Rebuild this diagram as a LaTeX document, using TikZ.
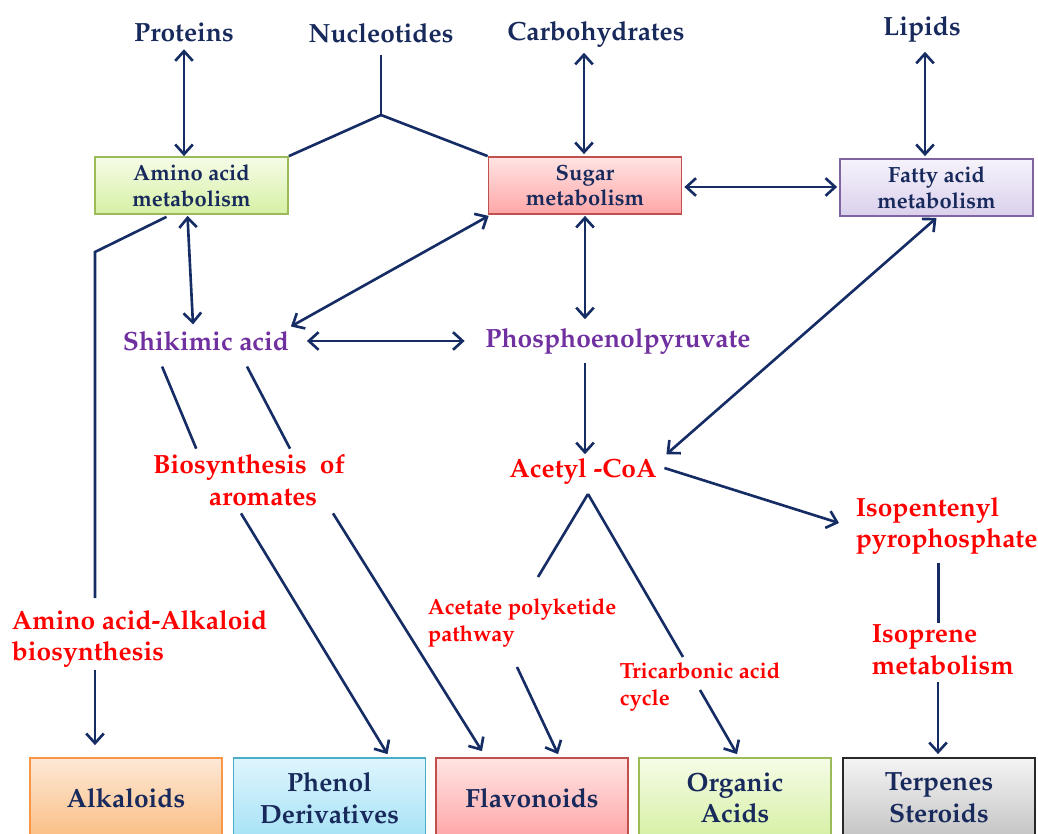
\documentclass[tikz,border=0pt]{standalone}
\usepackage[T1]{fontenc}
\usepackage{mathpazo}
\usepackage{tikz}
\usetikzlibrary{shapes,arrows,arrows.meta}
\usetikzlibrary{calc}

\definecolor{navytext}{RGB}{24,42,92}
\definecolor{navyline}{RGB}{22,44,100}
\definecolor{purplab}{RGB}{112,48,160}
\definecolor{greenT}{RGB}{246,252,232}
\definecolor{greenB}{RGB}{214,240,164}
\definecolor{greenD}{RGB}{155,187,89}
\definecolor{pinkT}{RGB}{255,228,228}
\definecolor{pinkB}{RGB}{255,166,166}
\definecolor{pinkD}{RGB}{192,80,77}
\definecolor{lilacT}{RGB}{246,243,251}
\definecolor{lilacB}{RGB}{218,208,236}
\definecolor{lilacD}{RGB}{128,100,162}
\definecolor{orangeT}{RGB}{253,232,214}
\definecolor{orangeB}{RGB}{251,190,132}
\definecolor{orangeD}{RGB}{247,150,70}
\definecolor{cyanT}{RGB}{222,245,253}
\definecolor{cyanB}{RGB}{166,226,246}
\definecolor{cyanD}{RGB}{75,172,198}
\definecolor{grayT}{RGB}{244,244,244}
\definecolor{grayB}{RGB}{196,196,196}
\definecolor{grayD}{RGB}{40,40,40}

\tikzset{
	link/.style={draw=navyline, line width=1.5pt},
	box/.style={draw, line width=1pt, align=center, text=navytext, inner sep=0pt,
		font=\fontsize{12.5}{14.7}\selectfont\bfseries, minimum width=3.86cm, minimum height=1.14cm},
	endbox/.style={draw, line width=1pt, align=center, text=navytext, inner sep=0pt,
		font=\fontsize{15}{18}\selectfont\bfseries, minimum width=3.84cm, minimum height=1.6cm},
	toplab/.style={text=navytext, inner sep=2pt, font=\fontsize{15}{17.5}\selectfont\bfseries},
	purlab/.style={text=purplab, inner sep=2pt, font=\fontsize{15}{18}\selectfont\bfseries},
	redlab/.style={text=red, inner sep=2pt, font=\fontsize{15}{18}\selectfont\bfseries},
	smalllab/.style={text=red, inner sep=2pt, align=left, font=\fontsize{12.5}{15.3}\selectfont\bfseries}
}

\begin{document}
\begin{tikzpicture}[x=0.02cm, y=-0.02cm, >={Straight Barb[length=5.5pt,width=10pt]}]
	\clip (0,0) rectangle (1038,834);

	\node[toplab] (prot) at (184,32) {Proteins};
	\node[toplab] (nucl) at (381,33) {Nucleotides};
	\node[toplab] (carb) at (596,34) {Carbohydrates};
	\node[toplab] (lip) at (922,29) {Lipids};

	\node[box, top color=greenT, bottom color=greenB, draw=greenD] (amino) at (191.5,185.5) {Amino acid\\metabolism};
	\node[box, top color=pinkT, bottom color=pinkB, draw=pinkD] (sugar) at (585,185.5) {Sugar\\metabolism};
	\node[box, top color=lilacT, bottom color=lilacB, draw=lilacD] (fatty) at (936.5,187.5) {Fatty acid\\metabolism};

	\node[purlab] (shik) at (206,341) {Shikimic acid};
	\node[purlab] (pep) at (618,341) {Phosphoenolpyruvate};
	\node[redlab, align=center] (arom) at (249,480) {Biosynthesis\ \ of\\\hspace*{0.56cm}aromates};
	\node[redlab] (acoa) at (583,471) {Acetyl -CoA};
	\node[redlab, align=left, anchor=west] (ipp) at (852,526) {Isopentenyl\\pyrophosphate};
	\node[redlab, align=left, anchor=west] (isop) at (868,650) {Isoprene\\metabolism};
	\node[redlab, align=left, anchor=west] (aaab) at (8,639) {Amino acid-Alkaloid\\biosynthesis};
	\node[smalllab, anchor=west] (apk) at (424,623) {Acetate polyketide\\pathway};
	\node[smalllab, anchor=west] (tca) at (616,687) {Tricarbonic acid\\cycle};

	\node[endbox, top color=orangeT, bottom color=orangeB, draw=orangeD] (alk) at (126,798) {Alkaloids};
	\node[endbox, top color=cyanT, bottom color=cyanB, draw=cyanD] (phen) at (329.5,798) {Phenol\\Derivatives};
	\node[endbox, top color=pinkT, bottom color=pinkB, draw=pinkD] (flav) at (532,798) {Flavonoids};
	\node[endbox, top color=greenT, bottom color=greenB, draw=greenD] (orga) at (735,798) {Organic\\Acids};
	\node[endbox, top color=grayT, bottom color=grayB, draw=grayD] (terp) at (939,798) {Terpenes\\Steroids};

	\coordinate (nfork) at (381,115);
	\coordinate (afork) at (588,494);
	\coordinate (abend) at (95,252);
	\coordinate (abin) at (95,598);
	\coordinate (about) at (95,670);
	\coordinate (apkin) at (538,577);
	\coordinate (apkout) at (517,667);
	\coordinate (tcain) at (683,657);
	\coordinate (tcaout) at (700,690);

	\draw[link, <->] ($(prot.south)+(0,4)$) -- (prot.south |- amino.north);
	\draw[link] ($(nucl.south)+(0,8)$) -- (nfork);
	\draw[link] (nfork) -- (amino.north east);
	\draw[link] (nfork) -- (sugar.north west);
	\draw[link, <->] ($(sugar.north |- carb.south)+(-1,2)$) -- ($(sugar.north)+(-1,-2)$);
	\draw[link, <->] ($(lip.south)+(3,6)$) -- ($(lip.south |- fatty.north)+(3,-2)$);
	\draw[link, <->] ($(sugar.east)+(2,1.5)$) -- ($(fatty.west)+(-2,-0.5)$);

	\draw[link, <->] ($(amino.south)+(-4,1)$) -- ($(shik.north)+(-13,-3)$);
	\draw[link, <->] ($(sugar.south west)+(1,1)$) -- ($(shik.north east)+(-2,-1)$);
	\draw[link, <->] ($(sugar.south)+(0,1)$) -- ($(sugar.south |- pep.north)+(0,-5)$);
	\draw[link, <->] ($(shik.east)+(14,0)$) -- ($(pep.west)+(-17,0)$);
	\draw[link, <->] ($(fatty.south)+(0,1)$) -- ($(acoa.north east)+(6,0)$);
	\draw[link, ->] ($(acoa.north |- pep.south)+(2,5)$) -- ($(acoa.north)+(2,0)$);
	\draw[link, ->] ($(acoa.east)+(4,-3)$) -- ($(ipp.west)+(-13,-3)$);
	\draw[link] ($(ipp.south)+(-8,4)$) -- ($(ipp.south |- isop.north)+(-8,2)$);
	\draw[link, ->] ($(terp.north |- isop.south)+(-1,3)$) -- ($(terp.north)+(-1,-3)$);

	\draw[link] (afork) -- (apkin);
	\draw[link] (afork) -- (tcain);
	\draw[link, ->] (apkout) -- ($(flav.north)+(26,-3)$);
	\draw[link, ->] (tcaout) -- ($(orga.north)+(2,-3)$);

	\draw[link] ($(amino.south)+(-25,2)$) -- (abend) -- (abin);
	\draw[link, ->] (about) -- ($(alk.north -| about)+(0,-12)$);

	\draw[link] ($(shik.south west)+(43,12)$) -- ($(arom.north west)+(47,-2)$);
	\draw[link] ($(shik.south)+(41,12)$) -- ($(arom.north)+(41,-2)$);
	\draw[link, ->] ($(arom.south)+(-8,4)$) -- ($(phen.north)+(58,-3)$);
	\draw[link, ->] ($(arom.south)+(84,4)$) -- ($(flav.north)+(-50,-6)$);
\end{tikzpicture}
\end{document}
